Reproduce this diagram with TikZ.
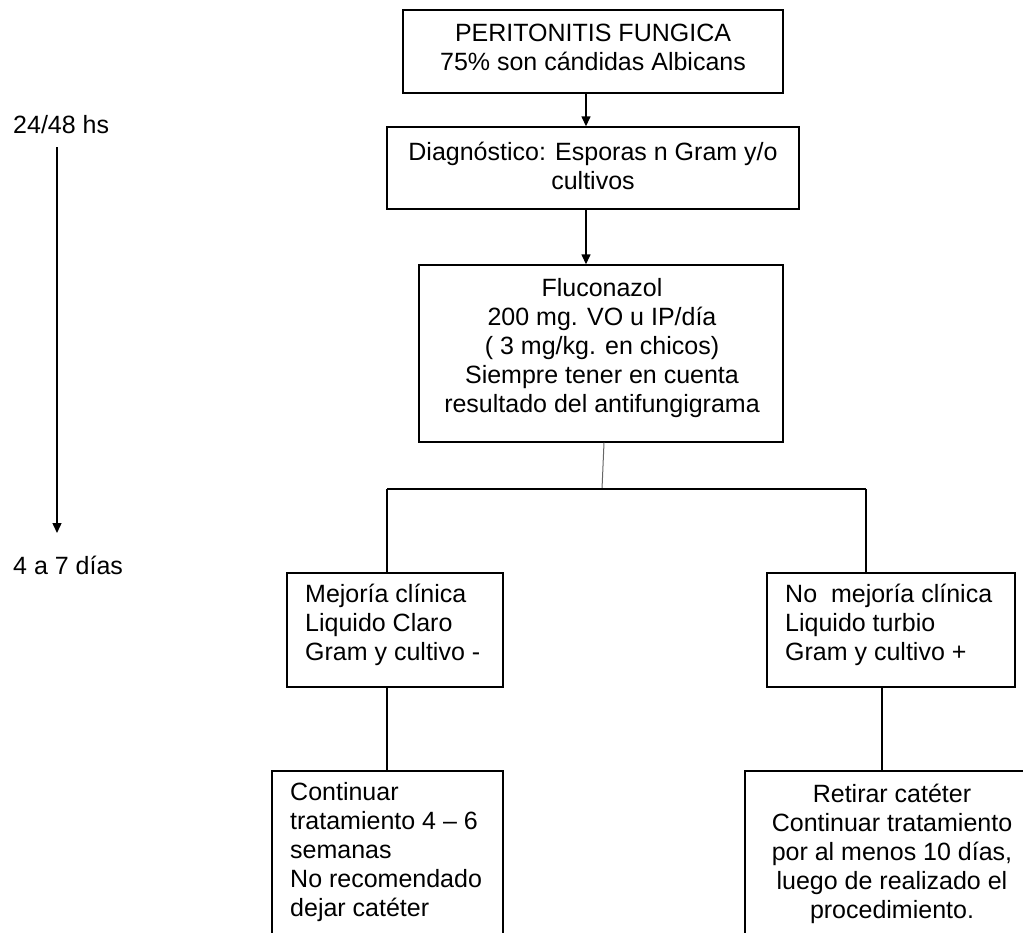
\documentclass[tikz,border=0pt]{standalone}
\usepackage{fontspec}
\setmainfont{Liberation Sans}
\usetikzlibrary{arrows.meta,calc}
\begin{document}
\begin{tikzpicture}[x=1pt,y=-1pt,
  box/.style={draw=black, line width=1.4pt, rectangle, inner sep=0pt},
  txt/.style={font=\fontsize{25}{29}\selectfont, inner sep=0pt, text=black},
  conn/.style={draw=black, line width=1.4pt},
  arr/.style={draw=black, line width=1.4pt, -{Triangle[length=10pt,width=9pt]}},
  thinconn/.style={draw=black!60, line width=1pt}]
\useasboundingbox (0,0) rectangle (1023,932);
\clip (0,0) rectangle (1023,932);

% boxes
\node[box, minimum width=380, minimum height=83] (b1) at (593,51.5) {};
\node[box, minimum width=412, minimum height=82] (b2) at (593,168) {};
\node[box, minimum width=364, minimum height=177] (b3) at (601,353.5) {};
\node[box, minimum width=216, minimum height=114] (b4) at (395,630) {};
\node[box, minimum width=231, minimum height=189] (b5) at (387.5,865.5) {};
\node[box, minimum width=248, minimum height=114] (b6) at (891,630) {};
\node[box, minimum width=294, minimum height=189] (b7) at (892,865.5) {};

% texts
\node[txt, align=center] (t1) at (593,47.5) {PERITONITIS FUNGICA\\75\% son cándidas Albicans};
\node[txt, align=center] (t2) at (593,166) {Diagnóstico: Esporas n Gram y/o\\cultivos};
\node[txt, align=center] (t3) at (602,348.5) {Fluconazol\\200 mg. VO u IP/día\\( 3 mg/kg. en chicos)\\Siempre tener en cuenta\\resultado del antifungigrama};
\node[txt, align=left, anchor=west] (t4) at (305,625) {Mejoría clínica\\Liquido Claro\\Gram y cultivo -};
\node[txt, align=left, anchor=west] (t6) at (785,625) {No\ \ mejoría clínica\\Liquido turbio\\Gram y cultivo +};
\node[txt, align=left, anchor=west] (t5) at (290,852.5) {Continuar\\tratamiento 4 -- 6\\semanas\\No recomendado\\dejar catéter};
\node[txt, align=center] (t7) at (892,853.5) {Retirar catéter\\Continuar tratamiento\\por al menos 10 días,\\luego de realizado el\\procedimiento.};

% timeline
\node[txt, anchor=west] (ta) at (13,125) {24/48 hs};
\node[txt, anchor=west] (tb) at (13,565) {4 a 7 días};
\coordinate (ts) at (57,147);
\coordinate (te) at (57,533);
\draw[arr] (ts) -- (te);

% connectors
\coordinate (ax) at (586,0);
\draw[arr] (b1.south -| ax) -- (b2.north -| ax);
\draw[arr] (b2.south -| ax) -- (b3.north -| ax);
\coordinate (split) at (602,489);
\coordinate (hl) at (387,489);
\coordinate (hr) at (866,489);
\draw[thinconn] ($(b3.south)+(3,0)$) -- (split);
\draw[conn] (hl) -- (hr);
\draw[conn] (hl) -- (b4.north -| hl);
\draw[conn] (hr) -- (b6.north -| hr);
\draw[conn] (b4.south -| hl) -- (b5.north -| hl);
\coordinate (rx) at (882,0);
\draw[conn] (b6.south -| rx) -- (b7.north -| rx);
\end{tikzpicture}
\end{document}
